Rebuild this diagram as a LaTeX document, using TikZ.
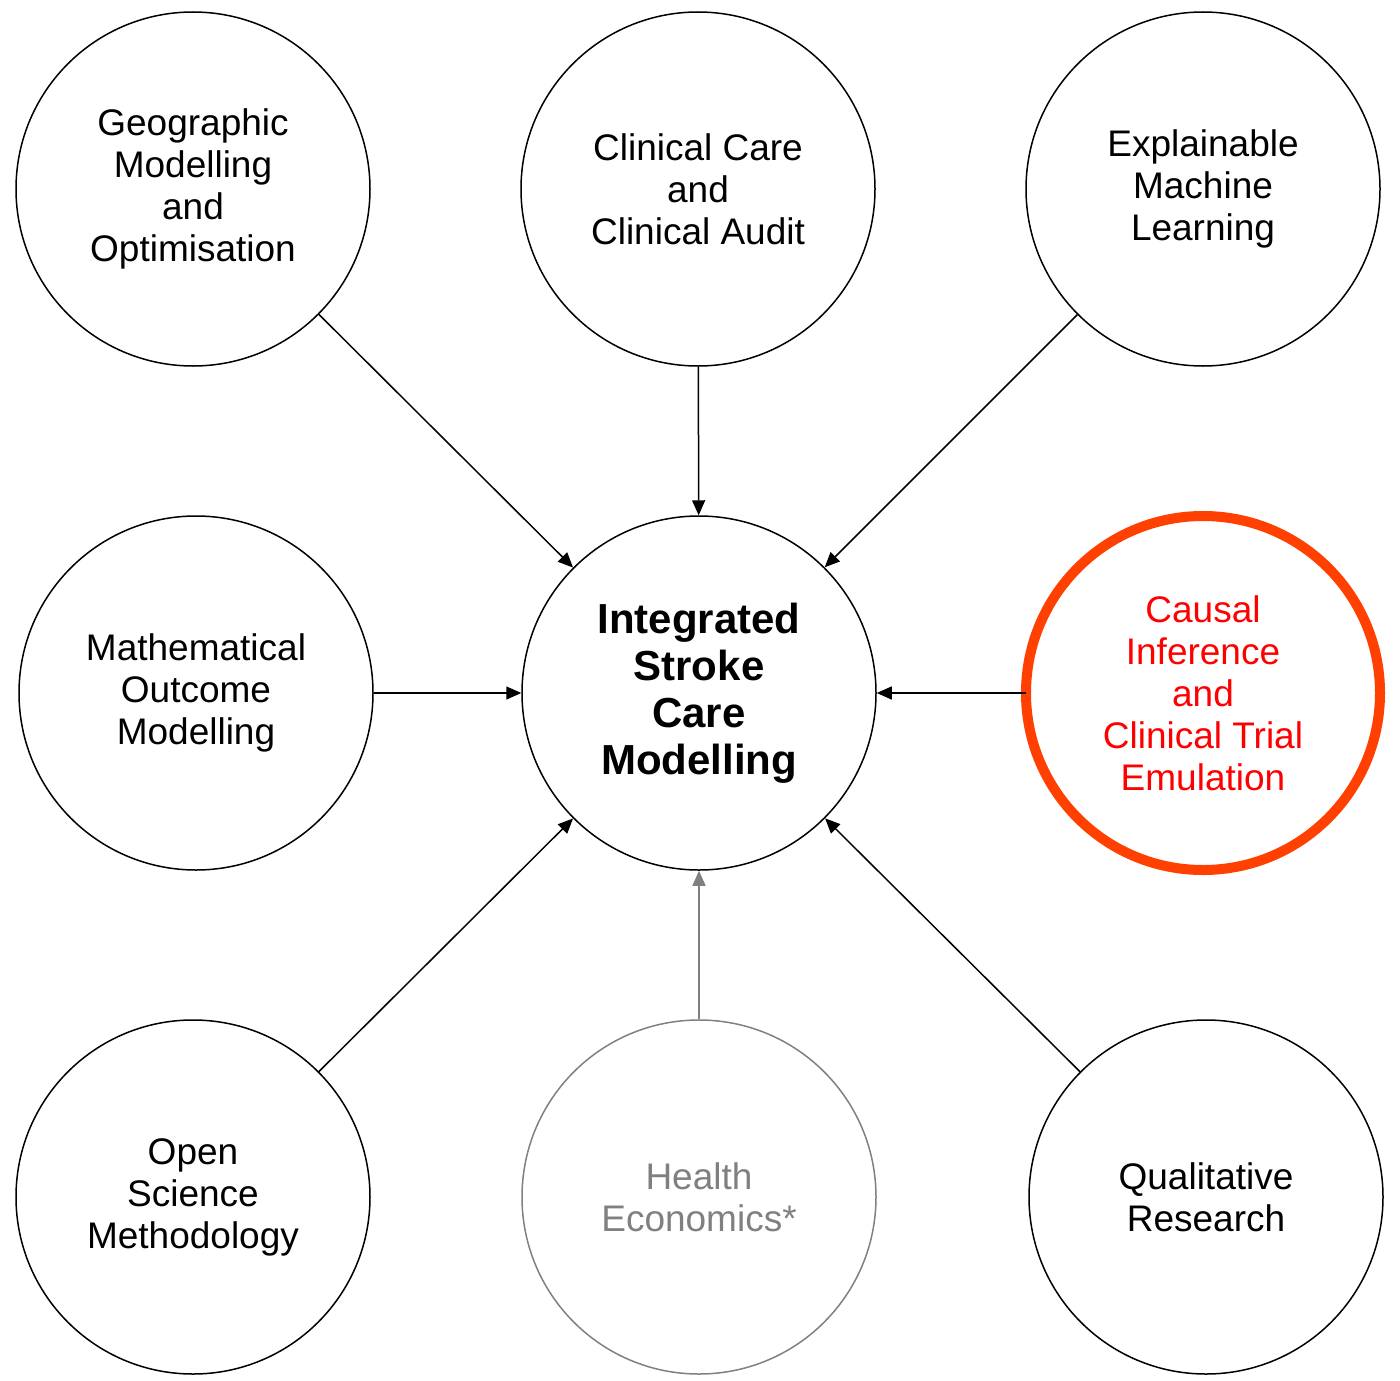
\documentclass[tikz,border=0pt]{standalone}
\usepackage{fontspec}
\setmainfont{Liberation Sans}
\usetikzlibrary{arrows.meta}
\definecolor{ringred}{HTML}{FF4000}
\definecolor{txtred}{HTML}{FF0000}
\definecolor{midgray}{HTML}{808080}
\begin{document}
\begin{tikzpicture}[x=1pt,y=-1pt,
  topic/.style={circle,draw=black,line width=1.5pt,minimum size=354pt,inner sep=0pt,align=center,
    font=\fontsize{37}{42}\selectfont},
  hub/.style={topic,font=\fontsize{42}{47}\selectfont\bfseries},
  redtopic/.style={topic,draw=ringred,line width=10pt,text=txtred},
  graytopic/.style={topic,draw=midgray,text=midgray},
  link/.style={line width=1.5pt,-{Triangle[length=15pt,width=13pt]}},
  graylink/.style={link,draw=midgray!80,color=midgray}]
\useasboundingbox (0,0) rectangle (1400,1381);
\node[topic] (geo) at (193,189) {Geographic\\Modelling\\and\\Optimisation};
\node[topic] (clin) at (698,189) {Clinical Care\\and\\Clinical Audit};
\node[topic] (xml) at (1203,189) {Explainable\\Machine\\Learning};
\node[topic] (math) at (196,693) {Mathematical\\Outcome\\Modelling};
\node[hub] (hub) at (699,693) {Integrated\\Stroke\\Care\\Modelling};
\node[redtopic] (causal) at (1203,693) {Causal\\Inference\\and\\Clinical Trial\\Emulation};
\node[topic] (open) at (193,1197) {Open\\Science\\Methodology};
\node[graytopic] (health) at (699,1197) {Health\\Economics*};
\node[topic] (qual) at (1206,1197) {Qualitative\\Research};
\draw[link] (geo) -- (hub);
\draw[link] (clin) -- (hub);
\draw[link] (xml) -- (hub);
\draw[link] (math) -- (hub);
\draw[link,shorten <=-5pt] (causal.west) -- (hub);
\draw[link] (open) -- (hub);
\draw[graylink] (health) -- (hub);
\draw[link] (qual) -- (hub);
\end{tikzpicture}
\end{document}
